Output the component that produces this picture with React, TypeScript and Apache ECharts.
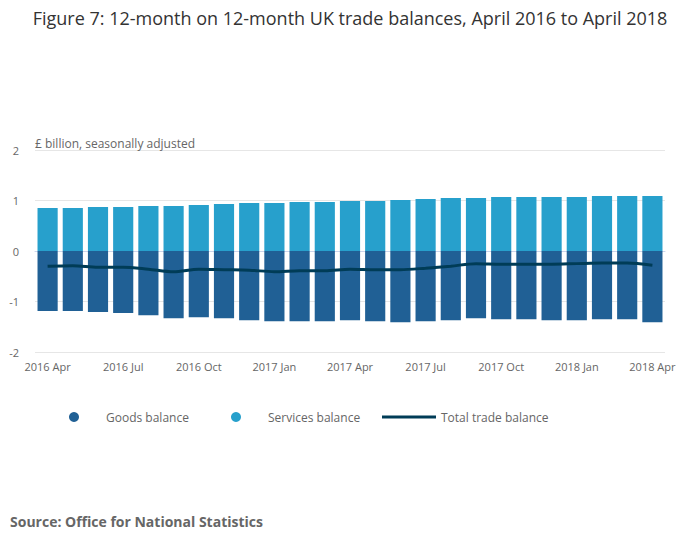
import React, { useEffect, useRef } from "react";
import * as echarts from "echarts";

const months = [
  "2016 Apr", "2016 May", "2016 Jun", "2016 Jul", "2016 Aug", "2016 Sep", "2016 Oct", "2016 Nov", "2016 Dec",
  "2017 Jan", "2017 Feb", "2017 Mar", "2017 Apr", "2017 May", "2017 Jun", "2017 Jul", "2017 Aug", "2017 Sep",
  "2017 Oct", "2017 Nov", "2017 Dec", "2018 Jan", "2018 Feb", "2018 Mar", "2018 Apr",
];
const goodsBalance = [
  -1.19, -1.19, -1.21, -1.23, -1.27, -1.33, -1.31, -1.33, -1.37, -1.39, -1.39, -1.39, -1.37,
  -1.39, -1.41, -1.39, -1.37, -1.33, -1.35, -1.35, -1.37, -1.37, -1.35, -1.35, -1.41,
];
const servicesBalance = [
  0.85, 0.85, 0.87, 0.87, 0.89, 0.89, 0.91, 0.93, 0.95, 0.95, 0.97, 0.97, 0.99,
  0.99, 1.01, 1.03, 1.05, 1.05, 1.07, 1.07, 1.07, 1.07, 1.09, 1.09, 1.09,
];
const totalBalance = [
  -0.3, -0.29, -0.32, -0.32, -0.36, -0.41, -0.36, -0.37, -0.38, -0.41, -0.39, -0.39, -0.36,
  -0.37, -0.37, -0.34, -0.3, -0.25, -0.26, -0.26, -0.26, -0.25, -0.24, -0.24, -0.28,
];

const FONT = "'Open Sans', 'Noto Sans', sans-serif";
const legendText = { fontFamily: FONT, fontSize: 12, color: "#666666" };

export default function App() {
  const ref = useRef<HTMLDivElement>(null);
  useEffect(() => {
    document.body.style.margin = "0";
    const chart = echarts.init(ref.current!, null, { renderer: "svg" });
    chart.setOption({
      animation: false,
      textStyle: { fontFamily: FONT },
      title: [
        {
          text: "Figure 7: 12-month on 12-month UK trade balances, April 2016 to April 2018",
          left: "center",
          top: 4,
          textStyle: { fontFamily: FONT, fontSize: 18, fontWeight: "normal", color: "#333333" },
        },
        {
          text: "Source: Office for National Statistics",
          left: 5,
          top: 509,
          textStyle: { fontFamily: FONT, fontSize: 14, fontWeight: "bold", color: "#666666" },
        },
      ],
      legend: [
        {
          left: 69,
          top: 411,
          padding: 0,
          itemWidth: 10,
          itemHeight: 10,
          formatter: "{t|{name}}",
          textStyle: { ...legendText, rich: { t: { ...legendText, padding: [0, 0, 0, 22] } } },
          data: [{ name: "Goods balance", icon: "circle" }],
        },
        {
          left: 231,
          top: 411,
          padding: 0,
          itemWidth: 10,
          itemHeight: 10,
          formatter: "{t|{name}}",
          textStyle: { ...legendText, rich: { t: { ...legendText, padding: [0, 0, 0, 22] } } },
          data: [{ name: "Services balance", icon: "circle" }],
        },
        {
          left: 382,
          top: 411,
          padding: 0,
          itemWidth: 54,
          itemHeight: 10,
          textStyle: legendText,
          data: [{ name: "Total trade balance", icon: "path://M0,0 L54,0 L54,3 L0,3 Z" }],
        },
      ],
      grid: { left: 35, right: 35, top: 150, bottom: 197 },
      xAxis: {
        type: "category",
        data: months,
        boundaryGap: true,
        axisLine: { lineStyle: { color: "#ccd6eb" } },
        axisTick: { alignWithLabel: true, interval: 2, length: 8, lineStyle: { color: "#ccd6eb" } },
        axisLabel: { interval: 2, color: "#666666", fontSize: 11, margin: 9, fontFamily: FONT },
      },
      yAxis: {
        type: "value",
        min: -2,
        max: 2,
        interval: 1,
        name: "£ billion, seasonally adjusted",
        nameLocation: "end",
        nameGap: 1,
        nameTextStyle: { align: "left", color: "#666666", fontSize: 12, fontFamily: FONT },
        axisLabel: { color: "#666666", fontSize: 11, margin: 16, fontFamily: FONT },
        axisLine: { show: false },
        axisTick: { show: false },
        splitLine: { lineStyle: { color: "#e6e6e6" } },
      },
      series: [
        {
          name: "Goods balance",
          type: "bar",
          stack: "bal",
          data: goodsBalance,
          barCategoryGap: "20%",
          itemStyle: { color: "#206095" },
        },
        {
          name: "Services balance",
          type: "bar",
          stack: "bal",
          data: servicesBalance,
          barCategoryGap: "20%",
          itemStyle: { color: "#27a0cc" },
        },
        {
          name: "Total trade balance",
          type: "line",
          data: totalBalance,
          smooth: 0.3,
          symbol: "none",
          lineStyle: { color: "#003c57", width: 3 },
          itemStyle: { color: "#003c57" },
          z: 5,
        },
      ],
    });
    return () => chart.dispose();
  }, []);
  return <div ref={ref} style={{ width: 700, height: 549 }} />;
}
